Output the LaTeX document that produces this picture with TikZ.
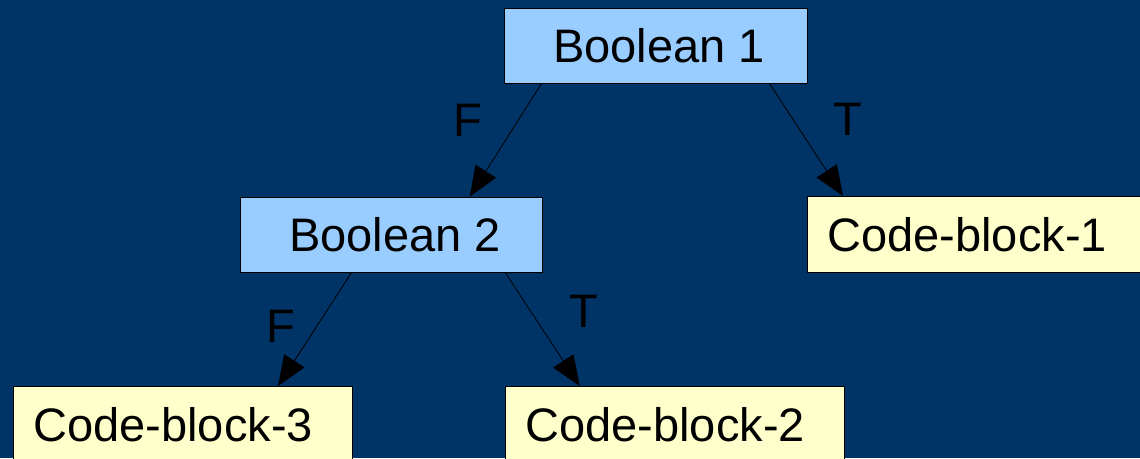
\documentclass[tikz,border=0pt]{standalone}
\usepackage{fontspec}
\setmainfont{Liberation Sans}
\usetikzlibrary{arrows.meta,calc}
\definecolor{bgnavy}{HTML}{003366}
\definecolor{boolblue}{HTML}{99CCFF}
\definecolor{codeyellow}{HTML}{FFFFCC}
\begin{document}
\begin{tikzpicture}[x=1pt,y=-1pt,
  every node/.style={font=\fontsize{47}{56}\selectfont, text=black},
  boolbox/.style={draw=black, line width=0.8pt, fill=boolblue, minimum width=303pt, minimum height=75pt, inner sep=0pt},
  codebox/.style={draw=black, line width=0.8pt, fill=codeyellow, minimum height=76pt, inner xsep=20pt, inner ysep=0pt, align=left, anchor=north west},
  conn/.style={line width=0.8pt, -{Triangle[length=30pt,width=24pt]}},
  lbl/.style={inner sep=0pt}]
\fill[bgnavy] (0,0) rectangle (1140,458);
\useasboundingbox (0,0) rectangle (1140,458);
\clip (0,0) rectangle (1140,458);
\node[boolbox] (b1) at (655.5,45.5) {\hspace*{7pt}Boolean 1};
\node[boolbox, minimum width=302pt] (b2) at (391,234.5) {\hspace*{8pt}Boolean 2};
\node[codebox, text width=313pt] (c1) at (807,196) {Code-block-1};
\node[codebox, text width=299pt] (c3) at (13,386) {Code-block-3};
\node[codebox, text width=299pt] (c2) at (505,386) {Code-block-2};
\draw[conn] ($(b1.south west)!0.125!(b1.south east)$) -- ($(b2.north west)!0.76!(b2.north east)$);
\draw[conn] ($(b1.south west)!0.875!(b1.south east)$) -- ($(c1.north west)!0.102!(c1.north east)$);
\draw[conn] ($(b2.south west)!0.37!(b2.south east)$) -- ($(c3.north west)!0.78!(c3.north east)$);
\draw[conn] ($(b2.south west)!0.877!(b2.south east)$) -- ($(c2.north west)!0.22!(c2.north east)$);
\node[lbl] (f1) at (468,120) {F};
\node[lbl] (t1) at (848,119) {T};
\node[lbl] (f2) at (281,326) {F};
\node[lbl] (t2) at (584,311) {T};
\end{tikzpicture}
\end{document}
